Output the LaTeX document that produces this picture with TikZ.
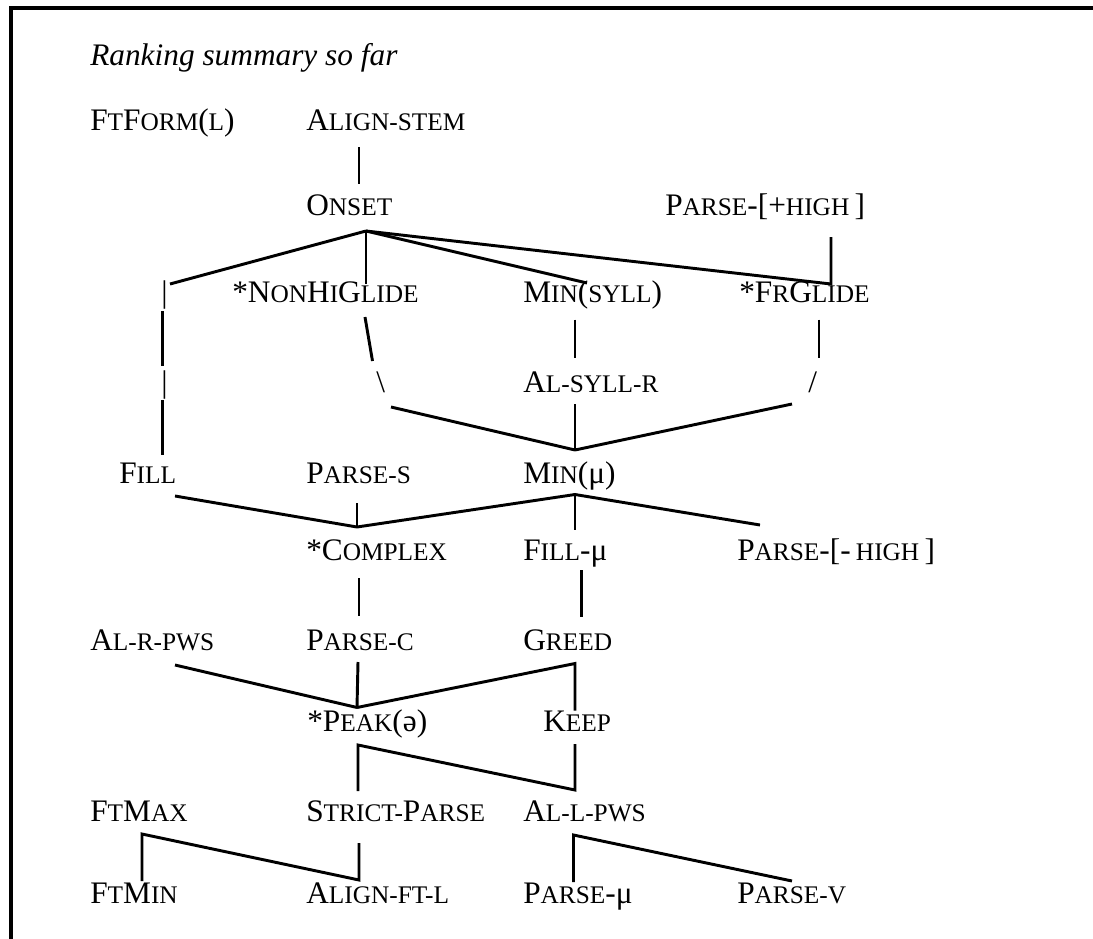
\documentclass[tikz,border=0pt]{standalone}
\usepackage{fontspec}
\setmainfont{Liberation Serif}
\usetikzlibrary{calc}
\newcommand{\smc}[1]{{\fontsize{19}{22}\selectfont #1}}

\begin{document}
\begin{tikzpicture}[x=0.75pt, y=-0.75pt, font=\fontsize{23.5}{28}\selectfont]
  % --- columns and row baselines, in pixels from the top left -------------
  \def\xa{90}  \def\xb{306}  \def\xc{523}  \def\xd{737}
  \def\ya{130} \def\yb{215} \def\yc{302} \def\yd{392} \def\ye{483}
  \def\yf{560} \def\yg{650} \def\yh{731} \def\yi{821} \def\yj{903}

  \tikzset{
    con/.style={anchor=base west, inner sep=0pt},
    link/.style={line width=2.2pt},
    frame/.style={line width=3pt}}

  \useasboundingbox (0,0) rectangle (1093,939);
  \draw[frame] (10.5,939) -- (10.5,8) -- (1093,8);

  % ---- 1. the constraints, row by row ------------------------------------
  \node[con] (title) at (\xa,65) {\itshape Ranking summary so far};

  \node[con] (ftform) at (\xa,\ya) {F\smc{T}F\smc{ORM}(\smc{L})};
  \node[con] (alstem) at (\xb,\ya) {A\smc{LIGN-STEM}};

  \node[con] (onset)  at (\xb,\yb) {O\smc{NSET}};
  \node[con] (parhi)  at (665,\yb) {P\smc{ARSE}-[+\smc{HIGH}\,]};

  \node[con] (barA)   at (161,\yc) {\textbar};
  \node[con] (nonhi)  at (232,\yc) {*N\smc{ON}H\smc{I}G\smc{LIDE}};
  \node[con] (minsyl) at (\xc,\yc) {M\smc{IN}(\smc{SYLL})};
  \node[con] (frgl)   at (739,\yc) {*F\smc{R}G\smc{LIDE}};

  \node[con] (barB)   at (161,\yd) {\textbar};
  \node[con] (bslash) at (376,\yd) {\textbackslash};
  \node[con] (alsyl)  at (\xc,\yd) {A\smc{L-SYLL-R}};
  \node[con] (slash)  at (808,\yd) {/};

  \node[con] (fill)   at (119,\ye) {F\smc{ILL}};
  \node[con] (pars)   at (\xb,\ye) {P\smc{ARSE-S}};
  \node[con] (minmu)  at (\xc,\ye) {M\smc{IN}(μ)};

  \node[con] (cplx)   at (\xb,\yf) {*C\smc{OMPLEX}};
  \node[con] (fillmu) at (\xc,\yf) {F\smc{ILL}-μ};
  \node[con] (parlo)  at (\xd,\yf) {P\smc{ARSE}-[-\,\smc{HIGH}\,]};

  \node[con] (alrp)   at (\xa,\yg) {A\smc{L-R-PWS}};
  \node[con] (parc)   at (\xb,\yg) {P\smc{ARSE-C}};
  \node[con] (greed)  at (\xc,\yg) {G\smc{REED}};

  \node[con] (peak)   at (307,\yh) {*P\smc{EAK}(ə)};
  \node[con] (keep)   at (543,\yh) {K\smc{EEP}};

  \node[con] (ftmax)  at (\xa,\yi) {F\smc{T}M\smc{AX}};
  \node[con] (strict) at (\xb,\yi) {S\smc{TRICT-}P\smc{ARSE}};
  \node[con] (allp)   at (\xc,\yi) {A\smc{L-L-PWS}};

  \node[con] (ftmin)  at (\xa,\yj) {F\smc{T}M\smc{IN}};
  \node[con] (alft)   at (\xb,\yj) {A\smc{LIGN-FT-L}};
  \node[con] (parmu)  at (\xc,\yj) {P\smc{ARSE}-μ};
  \node[con] (parv)   at (\xd,\yj) {P\smc{ARSE-V}};

  % ---- 2. the points where several rankings meet -------------------------
  \coordinate (jon)   at ($(onset.base west)+(60,16)$);
  \coordinate (lfree) at (170,284);
  \coordinate (jmin)  at ($(minmu.base west)+(52,-33)$);
  \coordinate (jmu)   at ($(minmu.base west)+(52,11.5)$);
  \coordinate (jcx)   at ($(cplx.base west)+(51,-33)$);
  \coordinate (jgr)   at ($(greed.base west)+(52,13.5)$);
  \coordinate (jpk)   at ($(peak.base west)+(50,-23.5)$);
  \coordinate (jpkb)  at ($(peak.base west)+(51,14)$);
  \coordinate (jal)   at ($(allp.base west)+(52,-31)$);
  \coordinate (jfm)   at ($(ftmax.base west)+(52,13)$);
  \coordinate (jalb)  at ($(allp.base west)+(50.5,14)$);

  % ---- 3. the rankings ---------------------------------------------------
  \draw[link] ($(alstem.base west)+(53,17)$) -- ($(onset.base west)+(53,-31)$);
  \draw[link] (jon) -- (lfree);
  \draw[link] (jon) -- ($(nonhi.base west)+(134,-18)$);
  \draw[link] (jon) -- ($(minsyl.base west)+(64,-19)$);
  \draw[link] (jon) -- ($(frgl.base west)+(92,-18)$)
                    -- ($(parhi.base west)+(166,22)$);

  % left column, broken by the bar glyphs
  \draw[link] ($(barA.base west)+(1.5,9)$) -- ($(barB.base west)+(1.5,-26)$);
  \draw[link] ($(barB.base west)+(1.5,8)$) -- ($(fill.base west)+(43.5,-28)$);

  % the three routes into Min(mu)
  \draw[link] ($(nonhi.base west)+(133,15)$) -- ($(bslash.base west)+(-3.5,-31)$);
  \draw[link] ($(bslash.base west)+(15,15)$) -- (jmin);
  \draw[link] ($(minsyl.base west)+(52,17.5)$) -- ($(alsyl.base west)+(52,-34)$);
  \draw[link] ($(alsyl.base west)+(52,12)$) -- (jmin);
  \draw[link] ($(frgl.base west)+(80,17.5)$) -- ($(slash.base west)+(11,-34)$);
  \draw[link] ($(slash.base west)+(-16,12)$) -- (jmin);

  % below Min(mu)
  \draw[link] (jmu) -- ($(parlo.base west)+(23,-35)$);
  \draw[link] (jmu) -- ($(fillmu.base west)+(52,-30.5)$);
  \draw[link] (jmu) -- (jcx);
  \draw[link] ($(fill.base west)+(56,13)$) -- (jcx);
  \draw[link] ($(pars.base west)+(51,20)$) -- (jcx);
  \draw[link] ($(cplx.base west)+(53,18)$) -- ($(parc.base west)+(53,-34)$);
  \draw[link] ($(fillmu.base west)+(58.6,10)$) -- ($(greed.base west)+(58.6,-33)$);

  % into *Peak
  \draw[link] ($(alrp.base west)+(85,15)$) -- (jpk);
  \draw[link] ($(parc.base west)+(52,12)$) -- (jpk);
  \draw[link] (jpk) -- (jgr) -- ($(keep.base west)+(32,-20.5)$);

  % bottom rows
  \draw[link] ($(strict.base west)+(52,-30)$) -- (jpkb) -- (jal)
              -- ($(keep.base west)+(32,13)$);
  \draw[link] ($(ftmin.base west)+(52,-22)$) -- (jfm)
              -- ($(alft.base west)+(53,-23)$) -- ($(strict.base west)+(53,22)$);
  \draw[link] ($(parmu.base west)+(50.5,-21)$) -- (jalb)
              -- ($(parv.base west)+(55,-22)$);
\end{tikzpicture}
\end{document}
